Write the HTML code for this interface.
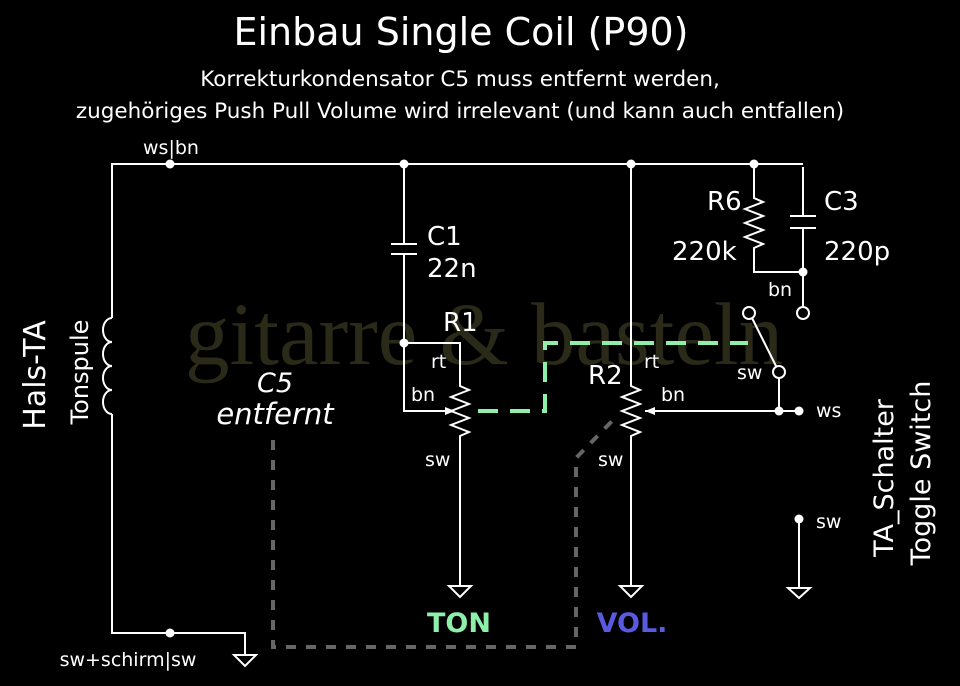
<!DOCTYPE html>
<html><head><meta charset="utf-8"><style>
html,body{margin:0;padding:0;background:#000;}
svg{display:block;}
text{font-family:"DejaVu Sans","Liberation Sans",sans-serif;fill:#fff;}
</style></head><body>
<svg width="960" height="686" viewBox="0 0 960 686" xmlns="http://www.w3.org/2000/svg">
<rect width="960" height="686" fill="#000"/>
<text x="185" y="364" font-size="89" style="fill:#2b2a18;font-family:'Liberation Serif',serif">gitarre &amp; basteln</text>
<text x="461" y="45" font-size="38" text-anchor="middle">Einbau Single Coil (P90)</text>
<text x="460" y="86" font-size="21.5" text-anchor="middle">Korrekturkondensator C5 muss entfernt werden,</text>
<text x="460" y="118" font-size="21.5" text-anchor="middle">zugehöriges Push Pull Volume wird irrelevant (und kann auch entfallen)</text>
<g stroke="#fff" stroke-width="2" fill="none">
<path d="M803 164 H112 V318"/>
<path d="M112 318 a9 12 0 0 0 0 24 a9 12 0 0 0 0 24 a9 12 0 0 0 0 24 a9 12 0 0 0 0 24"/>
<path d="M112 414 V633 H245 V655"/>
<path d="M234 655 H256 L245 666 Z"/>
<path d="M404 164 V244 M391 244 H417 M391 254 H417 M404 254 V411 H445"/>
<path d="M404 343 H460 V386 l9 4 -18 7 18 7 -18 7 18 7 -18 7 18 7 -9 4 V586"/>
<path d="M449 586 H471 L460 597 Z"/>
<path d="M631 164 V386 l9 4 -18 7 18 7 -18 7 18 7 -18 7 18 7 -9 4 V586"/>
<path d="M620 586 H642 L631 597 Z"/>
<path d="M645 411 H798"/>
<path d="M754 164 V198 l9 4 -18 7 18 7 -18 7 18 7 -18 7 18 7 -9 4 V272 H803"/>
<path d="M803 167 V216 M790 216 H816 M790 228 H816 M803 228 V307"/>
<circle cx="803" cy="313" r="6"/>
<circle cx="749" cy="313" r="6"/>
<circle cx="779" cy="372" r="6"/>
<path d="M752 318 L776 366 M779 378 V411"/>
<path d="M799 519 V588 M788 588 H810 L799 598 Z"/>
</g>
<path d="M455 411 l-10 -4 v8 z M645 411 l10 -4 v8 z" fill="#fff"/>
<g fill="#fff">
<circle cx="170" cy="164" r="4.5"/><circle cx="404" cy="164" r="4.5"/><circle cx="631" cy="164" r="4.5"/><circle cx="754" cy="164" r="4.5"/>
<circle cx="170" cy="633" r="4.5"/><circle cx="404" cy="343" r="4.5"/><circle cx="803" cy="272" r="4.5"/>
<circle cx="779" cy="411" r="4.5"/><circle cx="799" cy="411" r="4.5"/><circle cx="799" cy="519" r="4.5"/>
</g>
<path d="M478 411 H545 V343 H748" stroke="#8ef0a8" stroke-width="4" fill="none" stroke-dasharray="20 12"/>
<path d="M273 440 V647 H576 V458 L617 416" stroke="#666" stroke-width="4" fill="none" stroke-dasharray="10 10"/>
<text x="171" y="154" font-size="19" text-anchor="middle">ws|bn</text>
<text x="128" y="666" font-size="19" text-anchor="middle">sw+schirm|sw</text>
<text transform="translate(45 375) rotate(-90)" font-size="30" text-anchor="middle">Hals-TA</text>
<text transform="translate(88 372) rotate(-90)" font-size="24" text-anchor="middle">Tonspule</text>
<text x="275" y="392" font-size="27" font-style="italic" text-anchor="middle">C5</text>
<text x="275" y="424" font-size="29" font-style="italic" text-anchor="middle">entfernt</text>
<text x="427" y="245" font-size="26">C1</text>
<text x="427" y="277" font-size="26">22n</text>
<text x="443" y="331" font-size="26">R1</text>
<text x="431" y="368" font-size="19">rt</text>
<text x="411" y="401" font-size="19">bn</text>
<text x="425" y="466" font-size="19">sw</text>
<text x="588" y="384" font-size="26">R2</text>
<text x="644" y="368" font-size="19">rt</text>
<text x="661" y="401" font-size="19">bn</text>
<text x="598" y="466" font-size="19">sw</text>
<text x="707" y="210" font-size="26">R6</text>
<text x="672" y="260" font-size="26">220k</text>
<text x="824" y="210" font-size="26">C3</text>
<text x="824" y="260" font-size="26">220p</text>
<text x="768" y="296" font-size="19">bn</text>
<text x="737" y="379" font-size="19">sw</text>
<text x="816" y="417" font-size="19">ws</text>
<text x="816" y="528" font-size="19">sw</text>
<text transform="translate(893 478) rotate(-90)" font-size="27" text-anchor="middle">TA_Schalter</text>
<text transform="translate(930 473) rotate(-90)" font-size="27" text-anchor="middle">Toggle Switch</text>
<text x="459" y="632" font-size="27" font-weight="bold" text-anchor="middle" style="fill:#8ef0a8">TON</text>
<text x="632" y="632" font-size="27" font-weight="bold" text-anchor="middle" style="fill:#5a5ae0">VOL.</text>
</svg>
</body></html>
